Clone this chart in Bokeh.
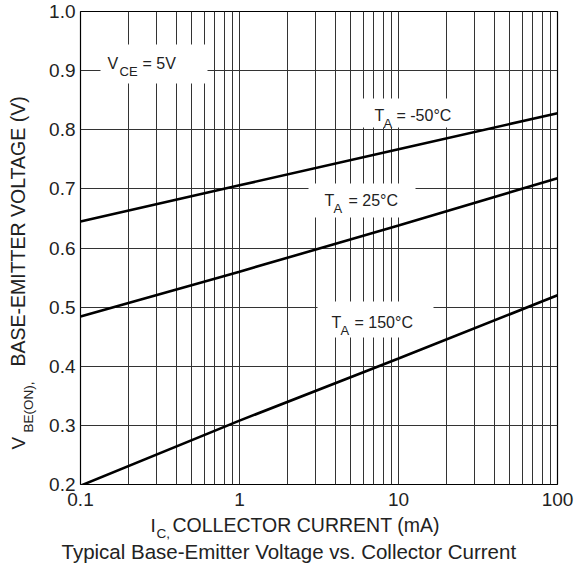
import math
from bokeh.plotting import figure
from bokeh.models import (FixedTicker, PrintfTickFormatter, CustomJSTickFormatter,
                          Label, BoxAnnotation, Range1d)
from bokeh.layouts import row, column
from bokeh.embed import file_html
from bokeh.resources import INLINE

# ---------------- data ----------------
ic_ma = [0.1, 1, 10, 100]
vbe_m50 = [0.645, 0.706, 0.767, 0.828]
vbe_25 = [0.484, 0.560, 0.638, 0.718]
vbe_150 = [0.198, 0.308, 0.413, 0.520]

x_major = [0.1, 1, 10, 100]
x_minor_mult = [2, 3, 4, 5, 6, 7, 8, 9]
y_ticks = [0.2, 0.3, 0.4, 0.5, 0.6, 0.7, 0.8, 0.9, 1.0]

FONT = "Liberation Sans"
TXT = "#222222"
KB = 0.34          # empirical baseline correction (fraction of font size)

W, H = 574, 565
LW = 45            # width of left strip (y title)
TOPH = 515         # height of top row (plot)
FL, FT, FW, FH = 80, 11, 477, 473   # frame position in page pixels

# ---------------- main plot ----------------
p = figure(width=W - LW, height=TOPH, x_axis_type="log",
           x_range=(0.1, 100), y_range=(0.2, 1.0), title=None,
           output_backend="svg", toolbar_location=None,
           min_border_left=FL - LW, min_border_right=W - FL - FW,
           min_border_top=FT, min_border_bottom=TOPH - FT - FH)
p.frame_width = FW
p.frame_height = FH
p.outline_line_color = "black"
p.outline_line_width = 1.2
p.background_fill_color = "white"
p.border_fill_color = "white"

minor = [m * d for d in [0.1, 1, 10] for m in x_minor_mult]
p.xaxis.ticker = FixedTicker(ticks=x_major, minor_ticks=minor)
p.yaxis.ticker = FixedTicker(ticks=y_ticks)
p.xaxis.formatter = CustomJSTickFormatter(code="return tick.toString();")
p.yaxis.formatter = PrintfTickFormatter(format="%.1f")

for ax in (p.xaxis, p.yaxis):
    ax.axis_line_color = None
    ax.major_tick_line_color = None
    ax.minor_tick_line_color = None
    ax.major_tick_in = 0
    ax.major_tick_out = 0
    ax.minor_tick_in = 0
    ax.minor_tick_out = 0
    ax.axis_label_standoff = 0
    ax.major_label_text_font = FONT
    ax.major_label_text_font_size = "19px"
    ax.major_label_text_color = TXT
p.xaxis.major_label_standoff = 8
p.yaxis.major_label_standoff = 5

GRID = "#333333"
p.xgrid.grid_line_color = GRID
p.xgrid.minor_grid_line_color = GRID
p.ygrid.grid_line_color = GRID

# pixel (reference image) -> data helpers for annotation placement
FB, DEC, YPX = FT + FH, FW / 3.0, FH / 0.8
def dx(px):
    return 10 ** ((px - FL) / DEC - 1)
def dy(py):
    return 0.2 + (FB - py) / YPX

# white label boxes
for (l, r, t, b) in [(100, 207, 44, 83), (357, 466, 98, 127),
                     (308, 415, 183, 217), (317, 433, 301, 337)]:
    p.add_layout(BoxAnnotation(left=dx(l), right=dx(r), top=dy(t), bottom=dy(b),
                               fill_color="white", fill_alpha=1.0,
                               line_color=None, level="underlay"))

# curves
for v in (vbe_m50, vbe_25, vbe_150):
    p.line(ic_ma, v, line_color="black", line_width=2.6)

def lab(fig, x, y, text, size, angle=0.0):
    fig.add_layout(Label(x=x, y=y, text=text, angle=angle,
                         text_font=FONT, text_font_size=f"{size}px", text_color=TXT,
                         text_align="left", text_baseline="alphabetic"))

def plab(px, py, text, size):
    lab(p, dx(px), dy(py - KB * size), text, size)

MAIN, SUB = 16, 13
plab(107, 68, "V", MAIN); plab(119, 75, "CE", SUB); plab(142, 68, "= 5V", MAIN)
plab(374, 120, "T", MAIN); plab(383, 127, "A", SUB); plab(396, 120, "= -50°C", MAIN)
plab(324, 205, "T", MAIN); plab(333, 212, "A", SUB); plab(348, 205, "= 25°C", MAIN)
plab(331, 327, "T", MAIN); plab(340, 334, "A", SUB); plab(354, 327, "= 150°C", MAIN)

# ---------------- helper strips for outer titles ----------------
def strip(w, h):
    f = figure(width=w, height=h, x_range=Range1d(0, w), y_range=Range1d(0, h),
               title=None, output_backend="svg", toolbar_location=None,
               x_axis_location=None, y_axis_location=None,
               min_border=0, min_border_left=0, min_border_right=0,
               min_border_top=0, min_border_bottom=0)
    f.frame_width = w
    f.frame_height = h
    f.outline_line_color = None
    f.grid.grid_line_color = None
    f.background_fill_color = "white"
    f.border_fill_color = "white"
    return f

# left strip: rotated y title (page coords: x = px, y = TOPH - py)
fl = strip(LW, TOPH)
ANG = math.pi / 2
def ltext(px, py, text, size):
    lab(fl, px - KB * size, TOPH - py, text, size, ANG)
ltext(24, 438, "V", 19)
ltext(33, 421, "BE(ON),", 13.5)
ltext(24, 355, "BASE-EMITTER VOLTAGE (V)", 19.5)

# bottom strip: x title and caption (page coords: x = px, y = H - py)
fb = strip(W, H - TOPH)
def btext(px, py, text, size):
    lab(fb, px, H - py + KB * size, text, size)
btext(150, 531, "I", 19)
btext(156, 538, "C,", 13.5)
btext(172, 531, "COLLECTOR CURRENT (mA)", 19.5)
btext(61, 558, "Typical Base-Emitter Voltage vs. Collector Current", 20.5)

layout = column(row(fl, p), fb)
open("out.html", "w").write(file_html(layout, INLINE))
